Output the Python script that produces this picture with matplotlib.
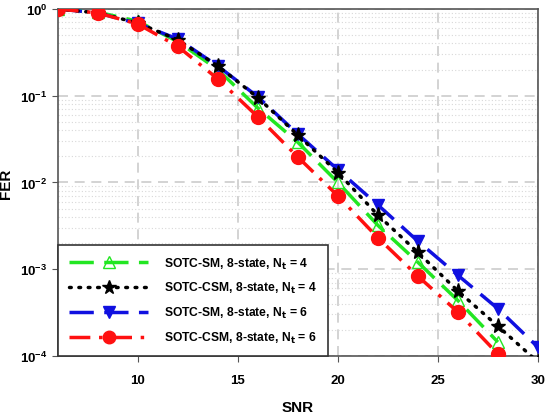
import matplotlib
matplotlib.use("Agg")
import matplotlib.pyplot as plt
from matplotlib.ticker import LogLocator, NullFormatter, FixedLocator

plt.rcParams['font.family'] = ['Liberation Sans', 'DejaVu Sans']

snr_a = [6, 8, 10, 12, 14, 16, 18, 20, 22, 24, 26, 28]
snr_b = [6, 8, 10, 12, 14, 16, 18, 20, 22, 24, 26, 28, 30]

fer_sm4 = [1.0, 0.92, 0.72, 0.42, 0.20, 0.072, 0.029, 0.0100, 0.0032, 0.00120, 0.000435, 0.000144]
fer_csm4 = [1.0, 0.90, 0.69, 0.44, 0.22, 0.095, 0.035, 0.0130, 0.0042, 0.00156, 0.00056, 0.00022, 0.000085]
fer_sm6 = [1.0, 0.90, 0.68, 0.45, 0.22, 0.097, 0.036, 0.0140, 0.0055, 0.00210, 0.00085, 0.00035, 0.000126]
fer_csm6 = [1.0, 0.90, 0.67, 0.37, 0.156, 0.057, 0.0196, 0.0070, 0.0023, 0.00083, 0.00032, 0.000105]

labels = ['SOTC-SM, 8-state, N$_\\mathbf{t}$ = 4',
          'SOTC-CSM, 8-state, N$_\\mathbf{t}$ = 4',
          'SOTC-SM, 8-state, N$_\\mathbf{t}$ = 6',
          'SOTC-CSM, 8-state, N$_\\mathbf{t}$ = 6']

fig = plt.figure(figsize=(5.45, 4.14), dpi=100)
ax = fig.add_axes([0.106, 0.138, 0.881, 0.838])

ax.semilogy(snr_a, fer_sm4, color='#22e622', lw=2.5, dashes=(7, 3),
            marker='^', ms=9, mfc='none', mec='#22e622', mew=1.0, label=labels[0], zorder=3)
ax.semilogy(snr_b, fer_csm4, color='black', lw=2.5, linestyle=(0, (0.5, 2.2)), dash_capstyle='round',
            marker='*', ms=11, mfc='black', mec='black', label=labels[1], zorder=4)
ax.semilogy(snr_b, fer_sm6, color='#1010e0', lw=2.5, dashes=(7, 3),
            marker='v', ms=9, mfc='#1010e0', mec='#1010e0', label=labels[2], zorder=3)
ax.semilogy(snr_a, fer_csm6, color='#ff1010', lw=2.5, dashes=(6, 2.5, 1, 2.5),
            marker='o', ms=10, mfc='#ff1010', mec='#ff1010', label=labels[3], zorder=5)

ax.set_xlim(6, 30)
ax.set_ylim(1e-4, 1)
ax.xaxis.set_major_locator(FixedLocator([10, 15, 20, 25, 30]))
ax.yaxis.set_major_locator(LogLocator(base=10, numticks=10))
ax.yaxis.set_minor_locator(LogLocator(base=10, subs=range(2, 10), numticks=20))
ax.yaxis.set_minor_formatter(NullFormatter())

ax.grid(True, which='major', axis='both', color='#cccccc', linestyle=(0, (6, 4)), lw=1.2)
ax.grid(True, which='minor', axis='y', color='#d8d8d8', linestyle=(0, (1, 2)), lw=0.8)
ax.set_axisbelow(True)

for s in ax.spines.values():
    s.set_color('#555555')
    s.set_linewidth(1.2)
ax.tick_params(which='major', length=4, color='#555555', labelsize=9.5)
ax.tick_params(axis='x', which='major', pad=9)
ax.tick_params(which='minor', length=0)
for t in ax.get_xticklabels() + ax.get_yticklabels():
    t.set_fontweight('bold')

ax.set_xlabel('SNR', fontsize=11, fontweight='bold', labelpad=10)
ax.set_ylabel('FER', fontsize=11, fontweight='bold')
ax.yaxis.set_label_coords(-0.093, 0.5)

leg = ax.legend(loc='lower left', bbox_to_anchor=(0.0, 0.0), prop={'weight': 'bold', 'size': 8.7},
                handlelength=6.6, handletextpad=1.3, borderpad=0.9, labelspacing=0.8,
                fancybox=False, framealpha=1.0, edgecolor='#333333', borderaxespad=0,
                markerscale=0.9)
leg.get_frame().set_linewidth(1.2)

fig.savefig('out.png', dpi=100)
